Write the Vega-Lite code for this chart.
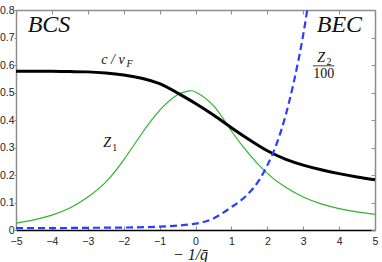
{
  "$schema": "https://vega.github.io/schema/vega-lite/v6.json",
  "width": 359,
  "height": 220,
  "autosize": {"type": "none"},
  "padding": {"left": 16, "top": 10, "right": 7, "bottom": 32},
  "background": "white",
  "config": {"view": {"stroke": null}, "axis": {"grid": false}},
  "datasets": {
    "cvf": [
      {"g": -5, "v": 0.577}, {"g": -4.5, "v": 0.577}, {"g": -4, "v": 0.577}, {"g": -3.5, "v": 0.576},
      {"g": -3, "v": 0.575}, {"g": -2.5, "v": 0.571}, {"g": -2, "v": 0.564}, {"g": -1.5, "v": 0.552},
      {"g": -1, "v": 0.532}, {"g": -0.5, "v": 0.498}, {"g": 0, "v": 0.46}, {"g": 0.5, "v": 0.418},
      {"g": 1, "v": 0.372}, {"g": 1.5, "v": 0.328}, {"g": 2, "v": 0.288}, {"g": 2.5, "v": 0.258},
      {"g": 3, "v": 0.236}, {"g": 3.5, "v": 0.219}, {"g": 4, "v": 0.205}, {"g": 4.5, "v": 0.193},
      {"g": 5, "v": 0.183}
    ],
    "z1": [
      {"g": -5, "v": 0.025}, {"g": -4.5, "v": 0.037}, {"g": -4, "v": 0.054}, {"g": -3.5, "v": 0.08},
      {"g": -3, "v": 0.12}, {"g": -2.5, "v": 0.174}, {"g": -2, "v": 0.255}, {"g": -1.5, "v": 0.35},
      {"g": -1, "v": 0.435}, {"g": -0.5, "v": 0.492}, {"g": -0.2, "v": 0.505}, {"g": 0, "v": 0.502},
      {"g": 0.5, "v": 0.452}, {"g": 1, "v": 0.36}, {"g": 1.5, "v": 0.275}, {"g": 2, "v": 0.206},
      {"g": 2.5, "v": 0.156}, {"g": 3, "v": 0.12}, {"g": 3.5, "v": 0.095}, {"g": 4, "v": 0.078},
      {"g": 4.5, "v": 0.066}, {"g": 5, "v": 0.057}
    ],
    "z2": [
      {"g": -5, "v": 0.007}, {"g": -4, "v": 0.007}, {"g": -3, "v": 0.008}, {"g": -2, "v": 0.009},
      {"g": -1, "v": 0.012}, {"g": -0.5, "v": 0.016}, {"g": 0, "v": 0.023}, {"g": 0.25, "v": 0.03},
      {"g": 0.5, "v": 0.042}, {"g": 0.75, "v": 0.061}, {"g": 1, "v": 0.083}, {"g": 1.25, "v": 0.106},
      {"g": 1.5, "v": 0.136}, {"g": 1.75, "v": 0.177}, {"g": 2, "v": 0.235}, {"g": 2.25, "v": 0.31},
      {"g": 2.5, "v": 0.412}, {"g": 2.75, "v": 0.545}, {"g": 3, "v": 0.71}, {"g": 3.25, "v": 0.92}
    ],
    "big": [
      {"g": -4.08, "v": 0.746, "t": "BCS"},
      {"g": 4.01, "v": 0.746, "t": "BEC"}
    ],
    "mid": [
      {"g": -2.3, "v": 0.619, "t": "c / v"},
      {"g": -2.46, "v": 0.315, "t": "Z"},
      {"g": 3.5, "v": 0.625, "t": "Z"}
    ],
    "up": [
      {"g": 3.57, "v": 0.568, "t": "100"}
    ],
    "sub": [
      {"g": -1.84, "v": 0.603, "t": "F"}
    ],
    "subup": [
      {"g": -2.25, "v": 0.3, "t": "1"},
      {"g": 3.72, "v": 0.61, "t": "2"}
    ],
    "bar": [
      {"g": 3.27, "g2": 3.87, "v": 0.597}
    ]
  },
  "resolve": {"axis": {"x": "independent", "y": "independent"}},
  "layer": [
    {
      "data": {"name": "z1"},
      "mark": {"type": "line", "color": "#2fb52a", "strokeWidth": 1.2, "interpolate": "natural"},
      "encoding": {
        "x": {"field": "g", "type": "quantitative",
              "scale": {"domain": [-5, 5], "nice": false, "zero": false},
              "axis": {"orient": "bottom", "values": [-5, -4, -3, -2, -1, 0, 1, 2, 3, 4, 5],
                       "domainColor": "#000000", "domainWidth": 1.5, "tickColor": "#8c8c8c",
                       "tickSize": -4, "labelPadding": 10, "labelFont": "Liberation Sans",
                       "labelFontSize": 10.5, "labelColor": "#222222", "labelFlush": false,
                       "title": "− 1/ḡ", "titleFont": "Liberation Serif", "titleFontStyle": "italic",
                       "titleFontWeight": "normal", "titleFontSize": 16, "titleColor": "#111111",
                       "titlePadding": 0, "titleX": 174}},
        "y": {"field": "v", "type": "quantitative",
              "scale": {"domain": [0, 0.8], "nice": false},
              "axis": {"orient": "left", "values": [0, 0.1, 0.2, 0.3, 0.4, 0.5, 0.6, 0.7, 0.8],
                       "format": "~g", "domainColor": "#8c8c8c", "domainWidth": 1.5,
                       "tickColor": "#8c8c8c", "tickSize": 2, "labelPadding": 0,
                       "labelFont": "Liberation Sans", "labelFontSize": 10.5, "labelColor": "#222222",
                       "labelFlush": false, "title": null}}
      }
    },
    {
      "data": {"name": "cvf"},
      "mark": {"type": "line", "color": "#000000", "strokeWidth": 3, "interpolate": "natural"},
      "encoding": {
        "x": {"field": "g", "type": "quantitative",
              "axis": {"orient": "top", "values": [-5, -4, -3, -2, -1, 0, 1, 2, 3, 4, 5],
                       "labels": false, "domainColor": "#8c8c8c", "domainWidth": 1.5,
                       "tickColor": "#8c8c8c", "tickSize": -4, "title": null}},
        "y": {"field": "v", "type": "quantitative",
              "axis": {"orient": "right", "values": [0, 0.1, 0.2, 0.3, 0.4, 0.5, 0.6, 0.7, 0.8],
                       "labels": false, "domainColor": "#8c8c8c", "domainWidth": 1.5,
                       "tickColor": "#8c8c8c", "tickSize": -4, "title": null}}
      }
    },
    {
      "data": {"name": "z2"},
      "mark": {"type": "line", "color": "#2b3dff", "strokeWidth": 2.2, "strokeDash": [7, 4],
               "interpolate": "monotone", "clip": true},
      "encoding": {
        "x": {"field": "g", "type": "quantitative", "axis": null},
        "y": {"field": "v", "type": "quantitative", "axis": null}
      }
    },
    {
      "data": {"name": "big"},
      "mark": {"type": "text", "font": "Liberation Serif", "fontStyle": "italic", "fontSize": 24,
               "color": "#111111", "align": "center", "baseline": "middle"},
      "encoding": {
        "x": {"field": "g", "type": "quantitative", "axis": null},
        "y": {"field": "v", "type": "quantitative", "axis": null},
        "text": {"field": "t"}
      }
    },
    {
      "data": {"name": "mid"},
      "mark": {"type": "text", "font": "Liberation Serif", "fontStyle": "italic", "fontSize": 14,
               "color": "#111111", "align": "center", "baseline": "middle"},
      "encoding": {
        "x": {"field": "g", "type": "quantitative", "axis": null},
        "y": {"field": "v", "type": "quantitative", "axis": null},
        "text": {"field": "t"}
      }
    },
    {
      "data": {"name": "up"},
      "mark": {"type": "text", "font": "Liberation Serif", "fontSize": 14,
               "color": "#111111", "align": "center", "baseline": "middle"},
      "encoding": {
        "x": {"field": "g", "type": "quantitative", "axis": null},
        "y": {"field": "v", "type": "quantitative", "axis": null},
        "text": {"field": "t"}
      }
    },
    {
      "data": {"name": "sub"},
      "mark": {"type": "text", "font": "Liberation Serif", "fontStyle": "italic", "fontSize": 10,
               "color": "#111111", "align": "center", "baseline": "middle"},
      "encoding": {
        "x": {"field": "g", "type": "quantitative", "axis": null},
        "y": {"field": "v", "type": "quantitative", "axis": null},
        "text": {"field": "t"}
      }
    },
    {
      "data": {"name": "subup"},
      "mark": {"type": "text", "font": "Liberation Serif", "fontSize": 10,
               "color": "#111111", "align": "center", "baseline": "middle"},
      "encoding": {
        "x": {"field": "g", "type": "quantitative", "axis": null},
        "y": {"field": "v", "type": "quantitative", "axis": null},
        "text": {"field": "t"}
      }
    },
    {
      "data": {"name": "bar"},
      "mark": {"type": "rule", "color": "#111111", "strokeWidth": 0.8},
      "encoding": {
        "x": {"field": "g", "type": "quantitative", "axis": null},
        "x2": {"field": "g2"},
        "y": {"field": "v", "type": "quantitative", "axis": null}
      }
    }
  ]
}
